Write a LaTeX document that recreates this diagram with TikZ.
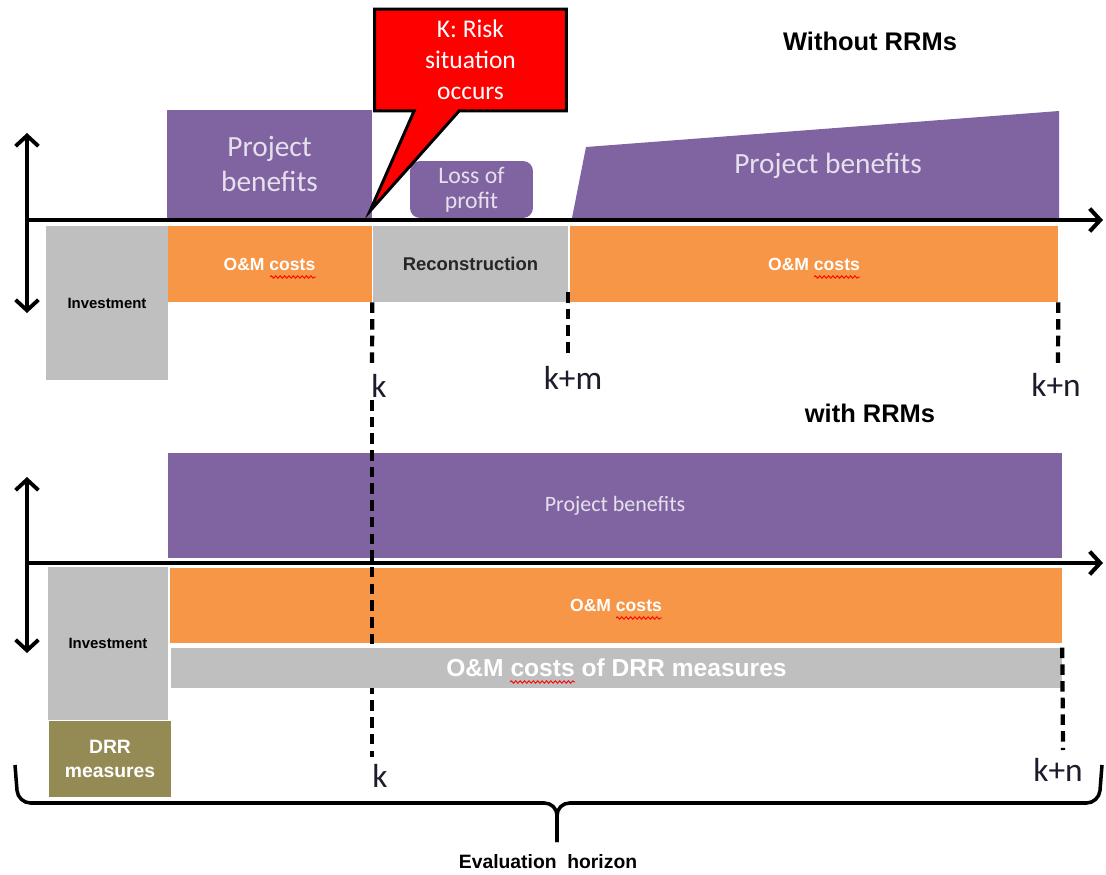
\documentclass[tikz,border=0pt]{standalone}
\usepackage{fontspec}
\setmainfont{Liberation Sans}
\newfontfamily\calfont{Carlito}
\usetikzlibrary{arrows.meta,shapes.callouts,decorations.pathmorphing}

\definecolor{benefit}{HTML}{8064A2}
\definecolor{omcost}{HTML}{F79646}
\definecolor{recgray}{HTML}{BFBFBF}
\definecolor{drrolive}{HTML}{948A54}
\definecolor{benfont}{HTML}{E6E0EC}
\definecolor{kfont}{HTML}{1C1C2C}

\begin{document}
\begin{tikzpicture}[x=0.02cm, y=-0.02cm,
    box/.style={rectangle, inner sep=0pt, align=center},
    cal/.style 2 args={font=\calfont\fontsize{#1}{#2}\selectfont},
    ari/.style 2 args={font=\bfseries\fontsize{#1}{#2}\selectfont},
    axisline/.style={line width=2.3pt, -{Straight Barb[length=6pt,width=13pt]}},
    updown/.style={line width=2.2pt, {Straight Barb[length=6pt,width=13pt]}-{Straight Barb[length=6pt,width=13pt]}},
    kline/.style={line width=2.4pt, dash pattern=on 6pt off 3.5pt},
    klabel/.style={cal={19}{19}, text=kfont, inner sep=0pt},
    spell/.style={red, line width=0.5pt, decorate, decoration={snake, amplitude=0.7pt, segment length=2.5pt}}]
    \useasboundingbox (0,0) rectangle (1106,875);

    % Without RRMs
    \node[ari={14.5}{14.5}] (title1) at (870,41) {Without RRMs};
    \node[box, fill=benefit, minimum width=4.1cm, minimum height=2.16cm, text=benfont, cal={16.7}{20}] (ben1) at (269.5,164) {Project\\benefits};
    \node[box, fill=omcost, minimum width=4.1cm, minimum height=1.52cm, text=white, ari={10}{10}] (om1) at (269.5,264) {O\&M costs};
    \node[box, fill=recgray, minimum width=3.9cm, minimum height=1.52cm, text=black!85, ari={10.5}{10.5}] (rec) at (470.5,264) {Reconstruction};
    \node[box, fill=benefit, rounded corners=0.2cm, minimum width=2.46cm, minimum height=1.14cm, text=benfont, cal={13.5}{14}] (loss) at (471.5,189.5) {Loss of\\profit};
    \fill[benefit] (572,218) -- (586,147) -- (1059,111) -- (1059,218) -- cycle;
    \node[text=benfont, cal={16.7}{16.7}] (ben2) at (828,166) {Project benefits};
    \node[box, fill=omcost, minimum width=9.76cm, minimum height=1.52cm, text=white, ari={10}{10}] (om2) at (814,264) {O\&M costs};
    \node[box, fill=recgray, minimum width=2.44cm, minimum height=3.08cm, ari={8.5}{8.5}] (inv1) at (107,303) {Investment};

    % spelling marks
    \draw[spell] (270,277) -- (316,277);
    \draw[spell] (814,277) -- (860,277);

    % axes
    \coordinate (ax1w) at (27,220);
    \coordinate (ax1e) at (1103,220);
    \coordinate (up1) at (27,133);
    \coordinate (dn1) at (27,313);
    \draw[axisline] (ax1w) -- (ax1e);
    \draw[updown] (up1) -- (dn1);

    % Risk callout
    \node[rectangle callout, draw=black, line width=1.7pt, fill=red, minimum width=3.84cm, minimum height=2.04cm,
          callout absolute pointer={(370,211)}, callout pointer width=0.9cm,
          text=white, align=center, cal={14.5}{17.6}] (risk) at (470.5,60) {K: Risk\\situation\\occurs};

    % time marks
    \node[klabel] (k1) at (379,386) {k};
    \node[klabel] (km) at (573,378) {k+m};
    \node[klabel] (kn1) at (1056,385) {k+n};
    \coordinate (k1a) at (372,366);
    \coordinate (k1b) at (372,400);
    \coordinate (k1c) at (372,757);
    \coordinate (kma) at (568,292);
    \coordinate (kmb) at (568,358);
    \coordinate (kn1a) at (1058,366);
    \draw[kline] (om1.south east) -- (k1a);
    \draw[kline] (kma) -- (kmb);
    \draw[kline] (om2.south east) -- (kn1a);

    % with RRMs
    \node[ari={14.5}{14.5}] (title2) at (870,413) {with RRMs};
    \node[box, fill=benefit, minimum width=17.88cm, minimum height=2.1cm, text=benfont, cal={12.5}{12.5}] (ben3) at (615,505.5) {Project benefits};
    \node[box, fill=omcost, minimum width=17.84cm, minimum height=1.5cm, text=white, ari={10}{10}] (om3) at (616,605.5) {O\&M costs};
    \coordinate (ax2w) at (27,563);
    \coordinate (ax2e) at (1103,563);
    \coordinate (up2) at (27,477);
    \coordinate (dn2) at (27,653);
    \draw[axisline] (ax2w) -- (ax2e);
    \draw[updown] (up2) -- (dn2);
    \draw[kline] (k1b) -- (k1c);
    \node[box, fill=recgray, minimum width=17.82cm, minimum height=0.8cm, text=white, ari={14}{14}] (drr) at (616.5,668) {O\&M costs of DRR measures};
    \node[box, fill=recgray, minimum width=2.4cm, minimum height=3.06cm, ari={8.5}{8.5}] (inv2) at (108,643.5) {Investment};
    \node[box, fill=drrolive, minimum width=2.44cm, minimum height=1.52cm, text=white, ari={11}{14}] (drrm) at (110,759) {DRR\\measures};
    \draw[spell] (616,618) -- (662,618);
    \draw[spell] (510,682) -- (575,682);

    \node[klabel] (k2) at (380,776) {k};
    \node[klabel] (kn2) at (1058,770) {k+n};
    \coordinate (kn2a) at (1063,750);
    \draw[kline] (drr.north east) -- (kn2a);

    % Evaluation horizon
    \draw[line width=2pt, rounded corners=0.25cm] (15,765) -- (18,803) -- (557,803) -- (557,842);
    \draw[line width=2pt, rounded corners=0.25cm] (1102,765) -- (1099,803) -- (557,803) -- (557,842);
    \node[ari={11}{11}] (horizon) at (548,862) {Evaluation\ \ horizon};
\end{tikzpicture}
\end{document}
